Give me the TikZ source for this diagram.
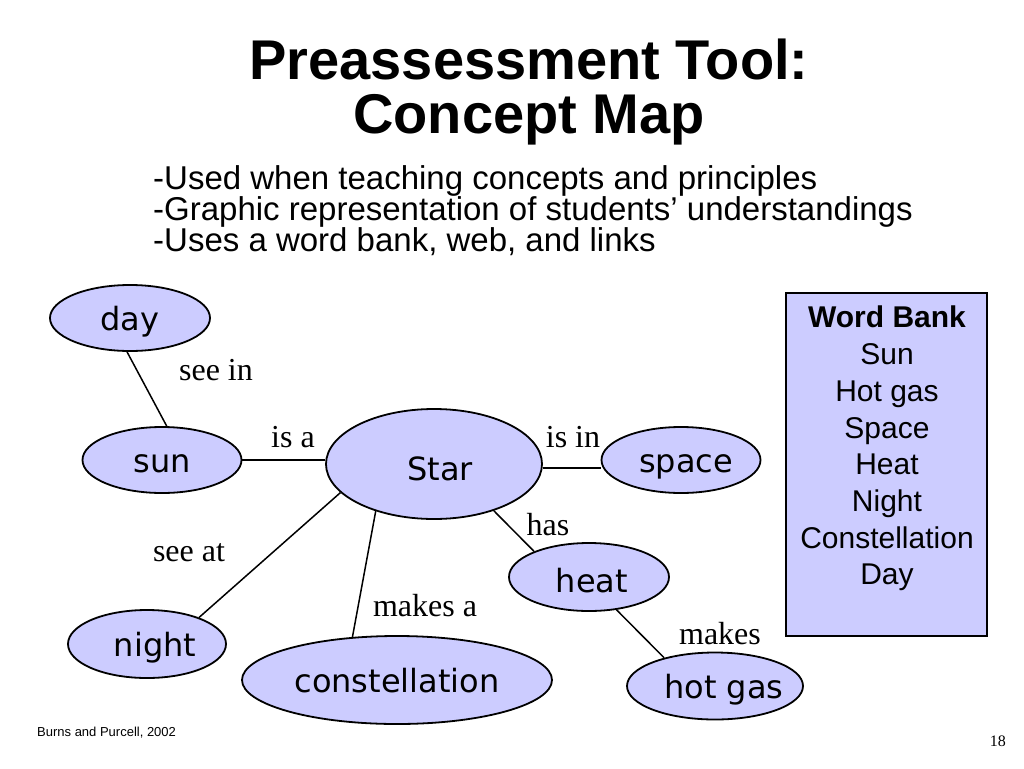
\documentclass[tikz,border=0pt]{standalone}
\usepackage{fontspec}
\setmainfont{Liberation Serif}
\newfontfamily\arialf{Liberation Sans}
\newfontfamily\dejaf{DejaVu Sans}
\usetikzlibrary{shapes.geometric}
\definecolor{lav}{RGB}{204,204,255}
\tikzset{
  concept/.style={ellipse, draw=black, line width=1.8pt, fill=lav, inner sep=0pt,
    font=\dejaf\fontsize{32}{36}\selectfont, text height=30.4pt, text depth=6.4pt},
  linklabel/.style={anchor=base, inner sep=0pt, font=\fontsize{32}{36}\selectfont},
  link/.style={draw=black, line width=1.5pt},
  titletext/.style={anchor=base, inner sep=0pt, font=\arialf\bfseries\fontsize{56}{56}\selectfont},
  bullettext/.style={anchor=base west, inner sep=0pt, font=\arialf\fontsize{33}{30}\selectfont}
}
\begin{document}
\begin{tikzpicture}[x=1pt, y=-1pt]
\useasboundingbox[fill=white] (0,0) rectangle (1024,768);

% title
\node[titletext] (t1) at (529,79) {Preassessment Tool:};
\node[titletext] (t2) at (529,133) {Concept Map};

% bullets
\node[bullettext] (b1) at (153,189) {-Used when teaching concepts and principles};
\node[bullettext] (b2) at (153,220) {-Graphic representation of students’ understandings};
\node[bullettext] (b3) at (153,251) {-Uses a word bank, web, and links};

% concepts
\node[concept, minimum width=160pt, minimum height=66pt] (day) at (130,318) {day\hspace{8pt}};
\node[concept, minimum width=159pt, minimum height=66pt] (sun) at (162,460) {sun\hspace{8pt}};
\node[concept, minimum width=216pt, minimum height=110pt] (star) at (434,464) {\hspace{12pt}\raisebox{-4pt}{Star}};
\node[concept, minimum width=159pt, minimum height=66pt] (space) at (681,460) {\hspace{10pt}space};
\node[concept, minimum width=160pt, minimum height=68pt] (heat) at (589,577) {\hspace{6pt}\raisebox{-3pt}{heat}};
\node[concept, minimum width=176pt, minimum height=67pt] (hotgas) at (715,686) {\makebox[0pt][c]{\hspace{18pt}hot gas}};
\node[concept, minimum width=158pt, minimum height=68pt] (night) at (147,644) {\hspace{16pt}night};
\node[concept, minimum width=310pt, minimum height=88pt] (const) at (397,680) {constellation\hspace{12pt}};

% connectors
\draw[link] (day.265) -- (sun.82);
\draw[link] (sun.east) -- (sun.east -| star.west);
\draw[link] (star.-2) -- (star.-2 -| space.west);
\draw[link] (star.197) -- (night.27);
\draw[link] (star.219) -- (const.136);
\draw[link] (star.322) -- (heat.155);
\draw[link] (heat.310) -- (hotgas.151);

% link labels
\node[linklabel] (lseein) at (216,380) {see in};
\node[linklabel] (lisa) at (293,447) {is a};
\node[linklabel] (lisin) at (573,447) {is in};
\node[linklabel] (lhas) at (548,535) {has};
\node[linklabel] (lmakes) at (720,644) {makes};
\node[linklabel] (lseeat) at (189,561) {see at};
\node[linklabel] (lmakesa) at (425,616) {makes a};

% word bank
\node[draw=black, line width=1.5pt, fill=lav, minimum width=201pt, minimum height=343pt, inner sep=0pt] (bank) at (886.5,464.5) {};
\node[anchor=north, inner sep=0pt, align=center, font=\arialf\fontsize{30}{36.7}\selectfont] (banktext) at (887,306)
  {\textbf{Word Bank}\\Sun\\Hot gas\\Space\\Heat\\Night\\Constellation\\Day};

% footer
\node[anchor=base west, inner sep=0pt, font=\arialf\fontsize{13}{15}\selectfont] (src) at (37,736) {Burns and Purcell, 2002};
\node[anchor=base east, inner sep=0pt, font=\fontsize{16}{18}\selectfont] (pg) at (1006,746) {18};
\end{tikzpicture}
\end{document}
